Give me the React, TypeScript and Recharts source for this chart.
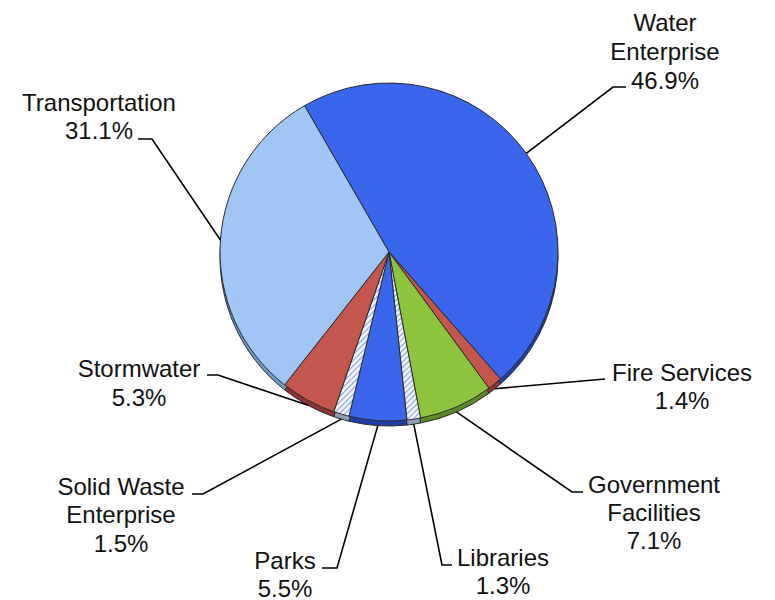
import React from 'react';
import { PieChart, Pie, Cell } from 'recharts';

const categories = [
  'Water Enterprise',
  'Fire Services',
  'Government Facilities',
  'Libraries',
  'Parks',
  'Solid Waste Enterprise',
  'Stormwater',
  'Transportation',
];
const shares = [46.9, 1.4, 7.1, 1.3, 5.5, 1.5, 5.3, 31.1];
const labelLines = [
  ['Water', 'Enterprise'],
  ['Fire Services'],
  ['Government', 'Facilities'],
  ['Libraries'],
  ['Parks'],
  ['Solid Waste', 'Enterprise'],
  ['Stormwater'],
  ['Transportation'],
];

const data = categories.map((name, i) => ({ name, value: shares[i] }));

// fills: top face / rim
const topFill = ['#3a66ee', '#c4564d', '#8cc43e', 'url(#hatch)', '#3a66ee', 'url(#hatch)', '#c4564d', '#9fc6f4'];
const rimFill = ['#1f3fa8', '#8a3531', '#5b8a26', '#8f9bb8', '#1f3fa8', '#8f9bb8', '#8a3531', '#6f97c9'];

// leader line elbow / end and text placement per slice
const layout = [
  { elbow: [613, 87], end: [626, 87], tx: 665, ty: [22, 51, 80] },
  { elbow: null, end: [605, 379], tx: 682, ty: [372, 400] },
  { elbow: [572, 492], end: [583, 492], tx: 654, ty: [484, 512, 540] },
  { elbow: [442, 565], end: [452, 565], tx: 503, ty: [557, 585] },
  { elbow: [337, 568], end: [322, 568], tx: 285, ty: [560, 588] },
  { elbow: [203, 494], end: [192, 494], tx: 121, ty: [486, 514, 543] },
  { elbow: [218, 375], end: [207, 375], tx: 139, ty: [368, 397] },
  { elbow: [152, 139], end: [138, 139], tx: 99, ty: [102, 130] },
];

const CX = 384;
const CY = 247;
const R = 169;
const RIM = 5;

const renderLabel = (props: any) => {
  const { cx, cy, midAngle, outerRadius, index } = props;
  const rad = (Math.PI / 180) * midAngle;
  const sx = cx + outerRadius * Math.cos(rad);
  let sy = cy - outerRadius * Math.sin(rad);
  if (sy > cy) sy += RIM;
  const l = layout[index];
  const pts = [[sx, sy]];
  if (l.elbow) pts.push(l.elbow);
  pts.push(l.end);
  const lines = [...labelLines[index], `${shares[index].toFixed(1)}%`];
  return (
    <g key={`lbl-${index}`}>
      <polyline points={pts.map(p => p.join(',')).join(' ')} fill="none" stroke="#000" strokeWidth={1.6} />
      <text textAnchor="middle" fontSize={24} fill="#111" fontFamily="'Liberation Sans', Arial, sans-serif">
        {lines.map((t, k) => (
          <tspan key={k} x={l.tx} y={l.ty[k] + 8.5}>{t}</tspan>
        ))}
      </text>
    </g>
  );
};

export default function App() {
  return (
    <div style={{ position: 'absolute', left: 0, top: 0, background: '#fff' }}>
      <PieChart width={775} height={600}>
        <defs>
          <pattern id="hatch" width="4" height="4" patternUnits="userSpaceOnUse" patternTransform="rotate(45)">
            <rect width="4" height="4" fill="#eef2fb" />
            <line x1="0" y1="0" x2="0" y2="4" stroke="#6d86d6" strokeWidth={1.6} />
          </pattern>
        </defs>
        <Pie
          data={data}
          dataKey="value"
          cx={CX}
          cy={CY + RIM}
          outerRadius={R}
          startAngle={120}
          endAngle={-240}
          stroke="#2a2a2a"
          strokeWidth={1}
          isAnimationActive={false}
          label={false}
          labelLine={false}
        >
          {data.map((d, i) => (
            <Cell key={d.name} fill={rimFill[i]} />
          ))}
        </Pie>
        <Pie
          data={data}
          dataKey="value"
          cx={CX}
          cy={CY}
          outerRadius={R}
          startAngle={120}
          endAngle={-240}
          stroke="#2a2a2a"
          strokeWidth={1}
          isAnimationActive={false}
          label={renderLabel}
          labelLine={false}
        >
          {data.map((d, i) => (
            <Cell key={d.name} fill={topFill[i]} />
          ))}
        </Pie>
      </PieChart>
    </div>
  );
}
